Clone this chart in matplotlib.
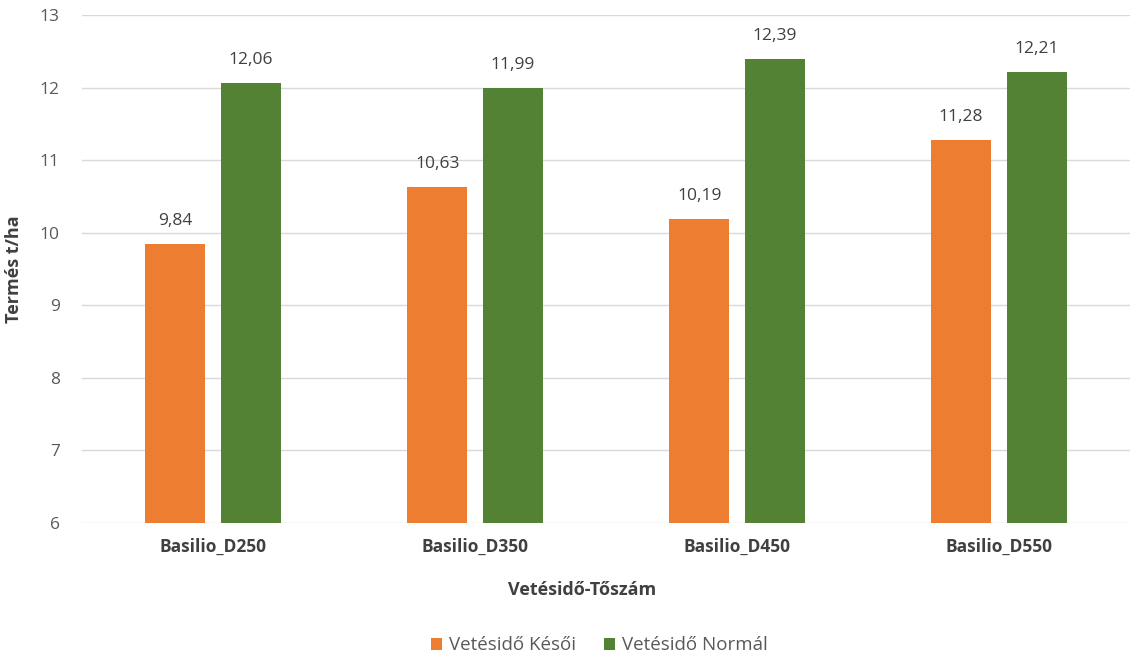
import matplotlib
matplotlib.use("Agg")
import matplotlib.pyplot as plt
import numpy as np

categories = ["Basilio_D250", "Basilio_D350", "Basilio_D450", "Basilio_D550"]
series_names = ["Vetésidő Késői", "Vetésidő Normál"]
late = [9.84, 10.63, 10.19, 11.28]
normal = [12.06, 11.99, 12.39, 12.21]
yticks = [6, 7, 8, 9, 10, 11, 12, 13]

orange = "#ED7D31"
green = "#548235"
txt = "#595959"

plt.rcParams['font.family'] = ['Open Sans', 'DejaVu Sans']

fig = plt.figure(figsize=(11.31, 6.59), dpi=100)
ax = fig.add_axes([0.0725, 0.2064, 0.9265, 0.7706])

x = np.arange(len(categories))
w = 0.229
off = 0.144
b1 = ax.bar(x - off, np.array(late) - 6, w, bottom=6, color=orange, label=series_names[0], zorder=3)
b2 = ax.bar(x + off, np.array(normal) - 6, w, bottom=6, color=green, label=series_names[1], zorder=3)

for xs, vals in ((x - off, late), (x + off, normal)):
    for xi, v in zip(xs, vals):
        ax.annotate(f"{v:.2f}".replace(".", ","), (xi, v), xytext=(0, 11), textcoords="offset points",
                    ha="center", va="bottom", fontsize=12.5, color="#404040")

ax.set_xlim(-0.5, len(categories) - 0.5)
ax.set_ylim(6, 13)
ax.set_yticks(yticks)
ax.set_yticklabels([str(t) for t in yticks], fontsize=12.5, color=txt)
ax.set_xticks(x)
ax.set_xticklabels(categories, fontsize=12.5, color="#404040", fontweight="bold")
ax.tick_params(axis="x", length=0, pad=11)
ax.tick_params(axis="y", length=0, pad=16)
ax.grid(axis="y", color="#D9D9D9", linewidth=1, zorder=0)
for s in ax.spines.values():
    s.set_visible(False)

ax.set_ylabel("Termés t/ha", fontsize=13, fontweight="bold", color="#404040")
ax.yaxis.set_label_coords(-0.056, 0.5)
ax.set_xlabel("Vetésidő-Tőszám", fontsize=13, fontweight="bold", color="#404040")
ax.xaxis.set_label_coords(0.477, -0.115)

leg = fig.legend(handles=[b1, b2], labels=series_names, loc="center", bbox_to_anchor=(0.530, 0.021),
                 ncol=2, frameon=False, fontsize=13.5, handlelength=0.6, handleheight=0.6,
                 handletextpad=0.35, columnspacing=1.5)
for t in leg.get_texts():
    t.set_color(txt)

fig.savefig("out.png", dpi=100)
